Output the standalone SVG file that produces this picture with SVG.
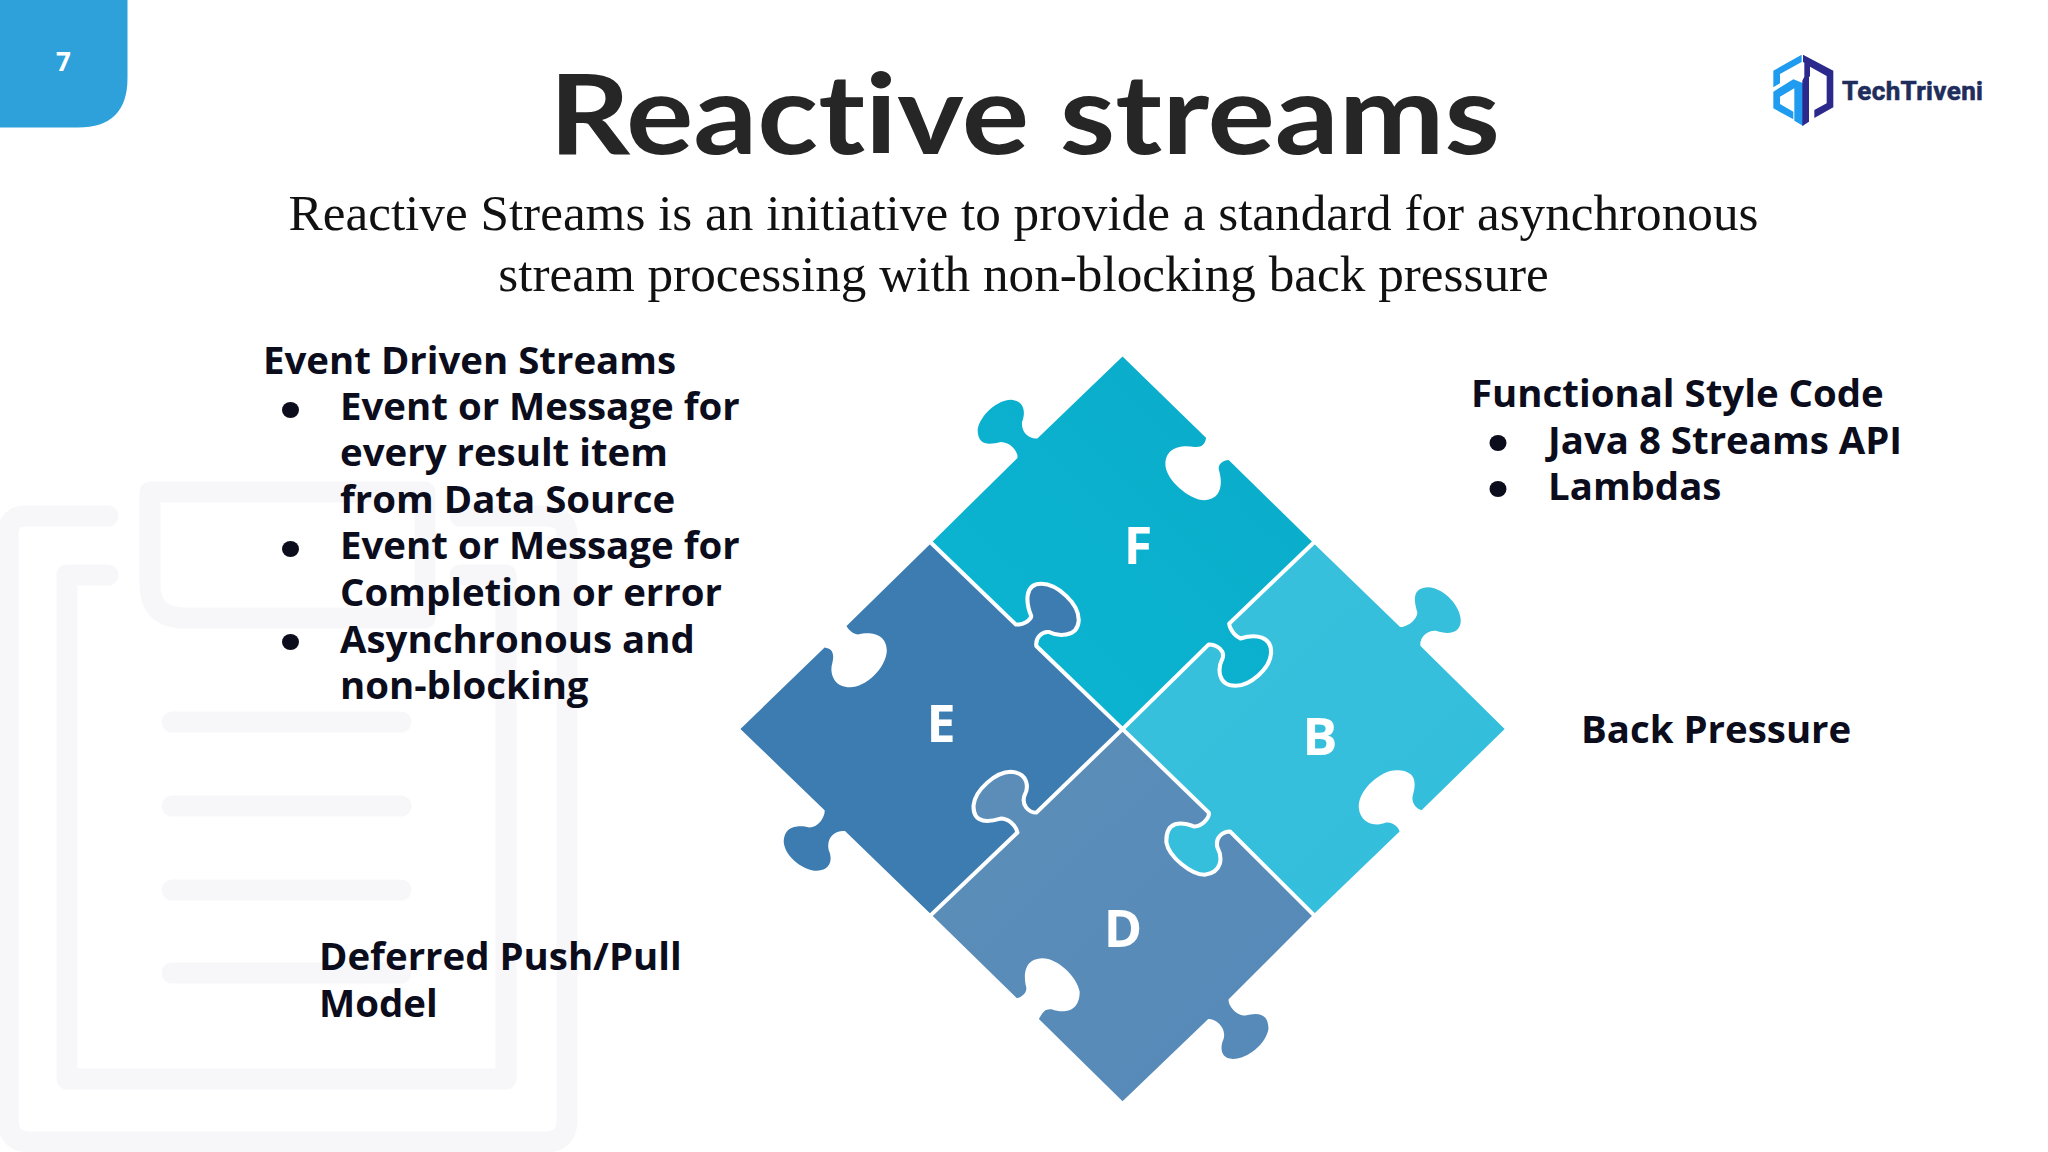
<svg xmlns="http://www.w3.org/2000/svg" width="2048" height="1152" viewBox="0 0 2048 1152">
<style>
.wm{fill:none;stroke:#f7f6f9;stroke-width:21;stroke-linecap:round;stroke-linejoin:round}
.body{font-family:"Open Sans","Noto Sans",sans-serif;font-weight:700;font-size:38.4px;fill:#0b0c1c}
.sub{font-family:"Liberation Serif",serif;font-size:51.2px;fill:#111;text-anchor:middle}
.seam{fill:none;stroke:#fff;stroke-width:8;stroke-linejoin:round}
.ltr{font-family:"Open Sans","Noto Sans",sans-serif;font-weight:700;font-size:52px;fill:#fff;text-anchor:middle}
</style>
<defs>
<linearGradient id="gf" x1="0" y1="1" x2="1" y2="0"><stop offset="0" stop-color="#0bb6d2"/><stop offset="1" stop-color="#0aabc9"/></linearGradient>
<linearGradient id="gb" x1="0" y1="0" x2="1" y2="1"><stop offset="0" stop-color="#39c0db"/><stop offset="1" stop-color="#32bedc"/></linearGradient>
<linearGradient id="gd" x1="0" y1="0" x2="1" y2="1"><stop offset="0" stop-color="#5c8eb8"/><stop offset="1" stop-color="#5589b8"/></linearGradient>
</defs>
<rect width="2048" height="1152" fill="#fff"/>
<g id="watermark">
<path class="wm" d="M108 516H25Q8 516 8 535V1120Q8 1142 30 1142H545Q567 1142 567 1120V535Q567 516 545 516H460"/>
<path class="wm" d="M108 575H67V1079H506V575H460"/>
<path class="wm" d="M150 492V585Q150 618 185 618H425V492Z"/>
<path class="wm" d="M172 722H401M172 806H401M172 890H401M172 973H401"/>
</g>
<g id="page-badge">
<path d="M0 0H127.500V78Q127.500 127.500 78 127.500H0Z" fill="#2ea1da"/>
<text x="63.500" y="71" style="font-family:'Open Sans',sans-serif;font-weight:700;font-size:26px;fill:#fff;text-anchor:middle">7</text>
</g>
<g id="title">
<text x="549" y="154" textLength="951" lengthAdjust="spacingAndGlyphs" style="font-family:Lato,'Open Sans',sans-serif;font-weight:700;font-size:112px;fill:#262626;font-variant-ligatures:none">Reactive streams</text>
<text class="sub" x="1023.500" y="230">Reactive Streams is an initiative to provide a standard for asynchronous</text>
<text class="sub" x="1023.500" y="291">stream processing with non-blocking back pressure</text>
</g>
<g id="logo">
<g transform="translate(1765,50) scale(.3333)">
<path fill="#1f9cf0" d="M110 14L25 62V112L45 100V72L110 36Z"/>
<path fill="#1f9cf0" d="M25 175V125L85 88L115 100V228L88 212V115L45 140V162L85 185V208Z"/>
<path fill="#2b2a8c" d="M114 14L205 62V172L148 204V180L185 160V78L135 50V78L132 82V215L112 228V92L118 80V38L114 36Z"/>
</g>
<text x="1842" y="100" textLength="141" lengthAdjust="spacing" style="font-family:Roboto,'Liberation Sans',sans-serif;font-weight:700;font-size:26px;fill:#1f2d5c;stroke:#1f2d5c;stroke-width:.6">TechTriveni</text>
</g>
<g id="left-text">
<text class="body" x="263" y="373.500">Event Driven Streams</text>
<ellipse cx="290.500" cy="410" rx="8.500" ry="8" fill="#0b0c1c"/>
<text class="body" x="340" y="419.800">Event or Message for</text>
<text class="body" x="340" y="466">every result item</text>
<text class="body" x="340" y="512.600">from Data Source</text>
<ellipse cx="290.500" cy="549" rx="8.500" ry="8" fill="#0b0c1c"/>
<text class="body" x="340" y="559">Event or Message for</text>
<text class="body" x="340" y="605.500">Completion or error</text>
<ellipse cx="290.500" cy="642" rx="8.500" ry="8" fill="#0b0c1c"/>
<text class="body" x="340" y="652.500">Asynchronous and</text>
<text class="body" x="340" y="699">non-blocking</text>
</g>
<g id="deferred-text">
<text class="body" x="319" y="970">Deferred Push/Pull</text>
<text class="body" x="319" y="1017">Model</text>
</g>
<g id="right-text">
<text class="body" x="1471" y="407">Functional Style Code</text>
<ellipse cx="1498" cy="443" rx="8.500" ry="8" fill="#0b0c1c"/>
<text class="body" x="1548" y="453.500">Java 8 Streams API</text>
<ellipse cx="1498" cy="489" rx="8.500" ry="8" fill="#0b0c1c"/>
<text class="body" x="1548" y="500">Lambdas</text>
</g>
<g id="back-pressure-text">
<text class="body" x="1581" y="743">Back Pressure</text>
</g>
<g transform="translate(720,340) scale(.5102,.4975)">
<g id="piece-b">
<path fill="url(#gb)" d="M1163 408L1333 577C1345 577 1365 565 1367 548C1360 525 1355 497 1390 497C1420 500 1452 535 1452 565C1450 595 1420 590 1405 585C1385 582 1370 600 1373 615L1538 782L1375 945C1360 940 1355 925 1358 915C1365 890 1365 865 1325 865C1295 865 1250 905 1252 940C1255 975 1290 978 1305 970C1320 968 1330 980 1332 988L1163 1155L1000 988C985 988 970 1000 975 1020C985 1040 985 1070 950 1075C925 1075 880 1040 875 1010C873 965 905 968 930 978C945 978 960 960 958 950L789 782L958 612C975 612 990 625 985 640C975 660 975 695 1010 695C1040 695 1078 660 1080 630C1082 595 1050 590 1020 600C1000 590 998 570 998 570Z"/>
</g>
<g id="piece-f">
<path fill="url(#gf)" d="M789 33L953 197C950 210 945 216 930 215C905 210 873 215 873 250C873 280 920 322 950 322C985 320 985 285 978 262C975 250 985 242 997 241L1163 408L998 570C998 570 1000 590 1020 600C1050 590 1082 595 1080 630C1078 660 1040 695 1010 695C975 695 975 660 985 640C990 625 975 612 958 612L789 782L620 615C618 600 630 585 645 587C660 595 700 600 703 565C705 530 660 490 630 490C595 490 600 530 610 555C610 560 600 572 580 572L414 408L583 237C585 225 570 205 550 205C530 210 505 215 505 180C510 150 545 120 570 120C600 122 598 150 592 165C590 185 605 200 622 198Z"/>
</g>
<g id="piece-e">
<path fill="#3c7cb0" d="M414 408L580 572C600 572 610 560 610 555C600 530 595 490 630 490C660 490 705 530 703 565C700 600 660 595 645 587C630 585 618 600 620 615L789 782L620 950C605 950 590 935 597 915C605 900 605 870 570 868C540 868 500 905 497 935C495 975 530 968 550 962C565 962 580 975 583 990L414 1155L245 987C225 985 208 1000 213 1025C220 1040 220 1065 190 1067C165 1067 128 1040 125 1010C125 975 155 975 175 980C195 980 207 955 205 945L40 782L205 618C220 620 225 630 220 650C215 665 220 698 255 698C285 698 325 660 327 625C327 590 295 585 270 592C255 590 248 575 248 575Z"/>
</g>
<g id="piece-d">
<path fill="url(#gd)" d="M789 782L958 950C960 960 945 978 930 978C905 968 873 965 875 1010C880 1040 925 1075 950 1075C985 1070 985 1040 975 1020C970 1000 985 988 1000 988L1163 1155L997 1325C995 1335 1010 1358 1030 1358C1050 1352 1075 1350 1075 1385C1070 1415 1035 1445 1005 1445C980 1445 980 1420 987 1405C993 1385 975 1365 957 1365L789 1530L625 1365C635 1345 640 1345 650 1345C675 1355 705 1350 705 1310C700 1280 660 1240 628 1243C595 1245 595 1280 600 1300C603 1312 590 1322 582 1323L414 1155L583 990C580 975 565 962 550 962C530 968 495 975 497 935C500 905 540 868 570 868C605 870 605 900 597 915C590 935 605 950 620 950Z"/>
</g>
<g id="seams">
<path class="seam" d="M1172 399L998 570C998 570 1000 590 1020 600C1050 590 1082 595 1080 630C1078 660 1040 695 1010 695C975 695 975 660 985 640C990 625 975 612 958 612L789 782"/>
<path class="seam" d="M405 399L580 572C600 572 610 560 610 555C600 530 595 490 630 490C660 490 705 530 703 565C700 600 660 595 645 587C630 585 618 600 620 615L789 782"/>
<path class="seam" d="M405 1164L583 990C580 975 565 962 550 962C530 968 495 975 497 935C500 905 540 868 570 868C605 870 605 900 597 915C590 935 605 950 620 950L789 782"/>
<path class="seam" d="M789 782L958 950C960 960 945 978 930 978C905 968 873 965 875 1010C880 1040 925 1075 950 1075C985 1070 985 1040 975 1020C970 1000 985 988 1000 988L1172 1164"/>
</g>
</g>
<g id="label-f"><text class="ltr" x="1138" y="564">F</text></g>
<g id="label-e"><text class="ltr" x="941" y="742">E</text></g>
<g id="label-b"><text class="ltr" x="1320" y="755">B</text></g>
<g id="label-d"><text class="ltr" x="1123" y="947">D</text></g>
</svg>
